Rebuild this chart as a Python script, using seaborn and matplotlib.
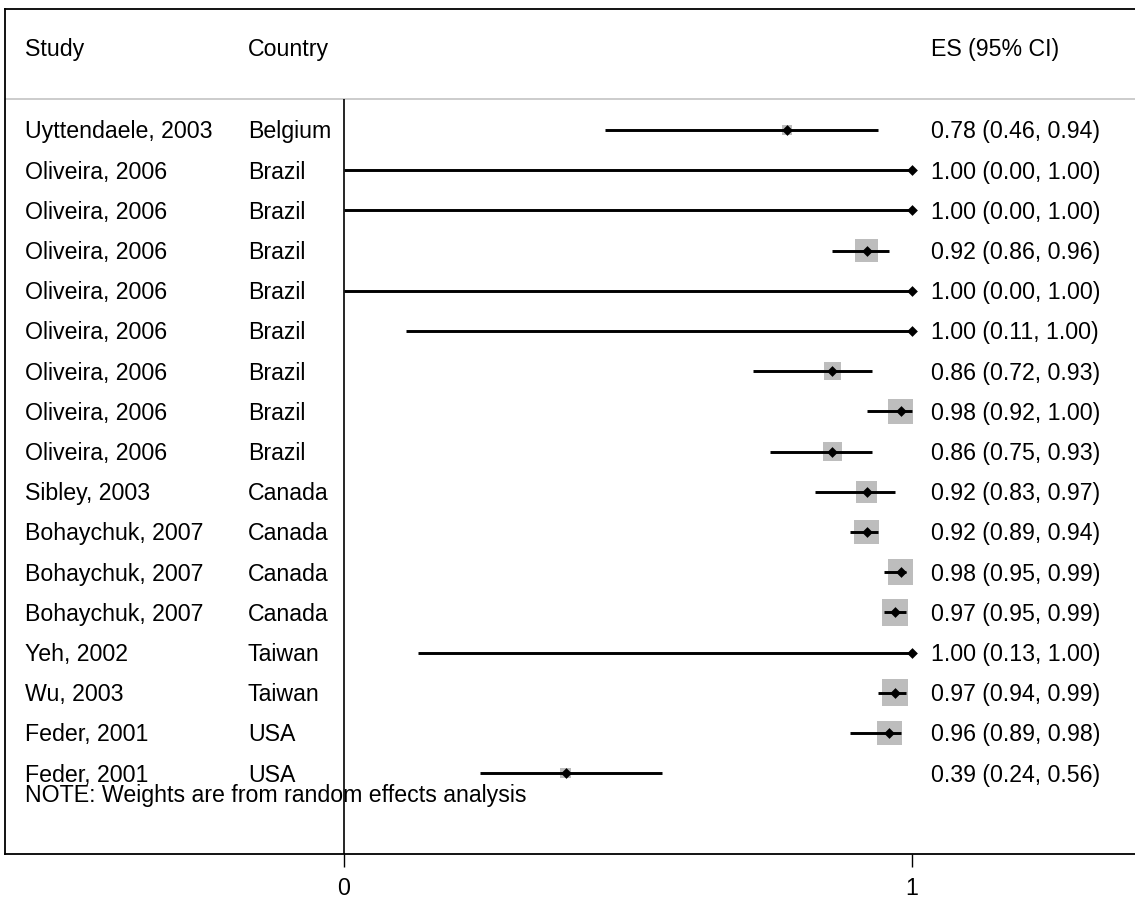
import matplotlib
matplotlib.use("Agg")
import matplotlib.pyplot as plt
import seaborn as sns
import pandas as pd
import numpy as np

# ---- data ----
studies = ["Uyttendaele, 2003", "Oliveira, 2006", "Oliveira, 2006", "Oliveira, 2006",
           "Oliveira, 2006", "Oliveira, 2006", "Oliveira, 2006", "Oliveira, 2006",
           "Oliveira, 2006", "Sibley, 2003", "Bohaychuk, 2007", "Bohaychuk, 2007",
           "Bohaychuk, 2007", "Yeh, 2002", "Wu, 2003", "Feder, 2001", "Feder, 2001"]
countries = ["Belgium", "Brazil", "Brazil", "Brazil", "Brazil", "Brazil", "Brazil",
             "Brazil", "Brazil", "Canada", "Canada", "Canada", "Canada", "Taiwan",
             "Taiwan", "USA", "USA"]
es = [0.78, 1.00, 1.00, 0.92, 1.00, 1.00, 0.86, 0.98, 0.86, 0.92, 0.92, 0.98, 0.97,
      1.00, 0.97, 0.96, 0.39]
ci_low = [0.46, 0.00, 0.00, 0.86, 0.00, 0.11, 0.72, 0.92, 0.75, 0.83, 0.89, 0.95, 0.95,
          0.13, 0.94, 0.89, 0.24]
ci_high = [0.94, 1.00, 1.00, 0.96, 1.00, 1.00, 0.93, 1.00, 0.93, 0.97, 0.94, 0.99, 0.99,
           1.00, 0.99, 0.98, 0.56]
weights = [1.5, 0.3, 0.3, 8.1, 0.3, 0.3, 4.4, 8.8, 4.9, 6.7, 8.8, 9.5, 10.3,
           0.3, 10.3, 8.8, 1.5]
header = ["Study", "Country", "ES (95% CI)"]
note = "NOTE: Weights are from random effects analysis"
xticks = [0, 1]

df = pd.DataFrame({"study": studies, "country": countries, "es": es,
                   "lo": ci_low, "hi": ci_high, "w": weights})
df["row"] = np.arange(1, len(df) + 1)

# ---- style ----
sns.set_theme(style="white")
plt.rcParams["font.family"] = ["Liberation Sans", "DejaVu Sans"]
plt.rcParams["text.color"] = "black"
plt.rcParams["xtick.color"] = "black"
plt.rcParams["xtick.labelcolor"] = "black"
FS = 16.7

fig = plt.figure(figsize=(11.35, 8.99), dpi=100)
W, H = 1135, 899
ax = fig.add_axes([5 / W, (H - 854) / H, (1135 - 5) / W, (854 - 9) / H])

x0px, x1px = 344, 912
scale = x1px - x0px
ax.set_xlim((5 - x0px) / scale, (1135 - x0px) / scale)
ax.set_ylim(19.01, -2.01)

# weight squares (area proportional to weight)
k = 36.0
wmin, wmax = df["w"].min(), df["w"].max()
sns.scatterplot(data=df, x="es", y="row", size="w", sizes=(k * wmin, k * wmax),
                size_norm=(wmin, wmax), marker="s", color="#bdbdbd", linewidth=0,
                legend=False, ax=ax, zorder=2)
# CI lines
ax.hlines(df["row"], df["lo"], df["hi"], color="black", lw=2.1, zorder=3)
# point estimates
sns.scatterplot(data=df, x="es", y="row", marker="D", color="black", s=30,
                linewidth=0, legend=False, ax=ax, zorder=4)

# null line at 0 and header separator
ax.vlines(0, 0.23, 19.01, color="black", lw=1.2, zorder=3)
ax.axhline(0.23, color="#c8c8c8", lw=1.3, zorder=1)

# text columns
xs = (25 - x0px) / scale
xc = (248 - x0px) / scale
xe = (931 - x0px) / scale
off = 0.21
for _, r in df.iterrows():
    ax.text(xs, r["row"] + off, r["study"], fontsize=FS, va="baseline", ha="left", color="black")
    ax.text(xc, r["row"] + off, r["country"], fontsize=FS, va="baseline", ha="left", color="black")
    ax.text(xe, r["row"] + off, f"{r['es']:.2f} ({r['lo']:.2f}, {r['hi']:.2f})",
            fontsize=FS, va="baseline", ha="left", color="black")
hy = -0.84
for xx, t in zip([xs, xc, xe], header):
    ax.text(xx, hy, t, fontsize=FS, va="baseline", ha="left", color="black")
ax.text(xs, 17.72, note, fontsize=FS, va="baseline", ha="left", color="black")

# axes styling
ax.set_xlabel("")
ax.set_ylabel("")
ax.set_yticks([])
ax.set_xticks(xticks)
ax.set_xticklabels([str(t) for t in xticks])
ax.tick_params(axis="x", direction="out", length=9.4, width=1.0, pad=7.0,
               labelsize=FS, colors="black", labelcolor="black", bottom=True)
for s in ["left", "top", "bottom"]:
    ax.spines[s].set_visible(True)
    ax.spines[s].set_color("black")
    ax.spines[s].set_linewidth(1.3)
ax.spines["right"].set_visible(False)
ax.grid(False)

fig.savefig("out.png", dpi=100, facecolor="white")
